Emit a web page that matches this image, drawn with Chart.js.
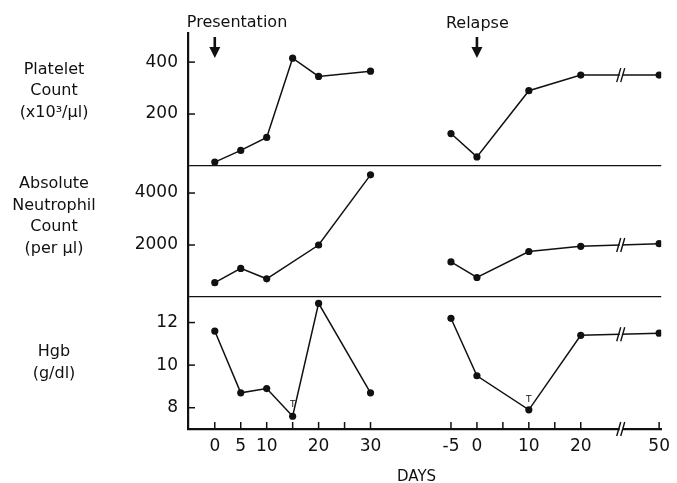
<!DOCTYPE html>
<html lang="en">
<head>
  <meta charset="UTF-8" />
  <title>Platelet, neutrophil and Hgb course</title>
  <script src="https://cdn.jsdelivr.net/npm/chart.js"></script>
  <style>
    html, body {
      margin: 0;
      background: #fff;
    }
    #chart {
      display: block;
    }
  </style>
</head>
<body>

<canvas id="chart" width="677" height="483"></canvas>

<script>
  // days of each sampling, per episode
  const presDays = [0, 5, 10, 15, 20, 30];
  const relapseDays = [-5, 0, 10, 20, 50];

  // platelet count (x10^3/ul)
  const plateletPres = [15, 60, 110, 415, 345, 365];
  const plateletRelapse = [125, 35, 290, 350, 350];

  // absolute neutrophil count (per ul)
  const ancPres = [550, 1100, 700, 2000, 4700];
  const ancPresDays = [0, 5, 10, 20, 30];
  const ancRelapse = [1350, 750, 1750, 1950, 2050];

  // hemoglobin (g/dl), T = transfused
  const hgbPres = [11.6, 8.7, 8.9, 7.6, 12.9, 8.7];
  const hgbRelapse = [12.2, 9.5, 7.9, 11.4, 11.5];
  const hgbPresT = [false, false, false, true, false, false];
  const hgbRelapseT = [false, false, true, false, false];

  // x axis ticks
  const presTicks = [0, 5, 10, 15, 20, 25, 30];
  const presTickLabels = ['0', '5', '10', '', '20', '', '30'];
  const relapseTicks = [-5, 0, 5, 10, 15, 20, 50];
  const relapseTickLabels = ['-5', '0', '', '10', '', '20', '50'];

  // y axis ticks
  const plateletTicks = [0, 100, 200, 300, 400];
  const plateletTickLabels = ['', '', '200', '', '400'];
  const ancTicks = [0, 1000, 2000, 3000, 4000];
  const ancTickLabels = ['', '', '2000', '', '4000'];
  const hgbTicks = [8, 9, 10, 11, 12];
  const hgbTickLabels = ['8', '', '10', '', '12'];

  // the day axis is one scale: relapse days are shifted, day 50 sits past a break
  const relapseShift = 50.5;
  const breakPos = 78.2;
  const afterBreakPos = 85.6;
  const relapsePos = d => d > 20 ? afterBreakPos + (d - 50) : relapseShift + d;

  const FONT = 'DejaVu Sans';
  const INK = '#111';

  const xTickPos = presTicks.concat(relapseTicks.map(relapsePos));
  const xTickText = presTickLabels.concat(relapseTickLabels);

  function pts(days, vals, mapper) {
    return days.map((d, i) => ({ x: mapper(d), y: vals[i] }));
  }
  const same = d => d;

  function series(data, axis) {
    return {
      data: data,
      yAxisID: axis,
      borderColor: INK,
      borderWidth: 1.5,
      backgroundColor: INK,
      pointRadius: 3.6,
      pointBorderWidth: 0,
      pointBackgroundColor: INK,
      tension: 0,
      fill: false
    };
  }

  function yScale(min, max, ticks, labels, weight) {
    return {
      type: 'linear',
      position: 'left',
      stack: 'panels',
      stackWeight: weight,
      min: min,
      max: max,
      afterBuildTicks: s => { s.ticks = ticks.map(v => ({ value: v })); },
      afterFit: s => { s.width = 188; },
      ticks: {
        color: INK,
        padding: 10,
        font: { family: FONT, size: 17 },
        callback: v => labels[ticks.indexOf(v)] || ''
      },
      grid: {
        drawTicks: false,
        lineWidth: 1.3,
        color: c => (c.tick && c.tick.value === 0) ? INK : 'rgba(0,0,0,0)'
      },
      border: { display: true, color: INK, width: 2.2 }
    };
  }

  function breakMark(ctx, x, y) {
    ctx.save();
    ctx.strokeStyle = INK;
    ctx.lineWidth = 1.4;
    ctx.fillStyle = '#fff';
    ctx.fillRect(x - 1, y - 2, 3, 4);
    [-2, 2].forEach(dx => {
      ctx.beginPath();
      ctx.moveTo(x + dx - 2, y + 7);
      ctx.lineTo(x + dx + 2, y - 7);
      ctx.stroke();
    });
    ctx.restore();
  }

  function arrow(ctx, x, top) {
    ctx.save();
    ctx.fillStyle = INK;
    ctx.fillRect(x - 1.3, top, 2.6, 12);
    ctx.beginPath();
    ctx.moveTo(x - 5.5, top + 10);
    ctx.lineTo(x + 5.5, top + 10);
    ctx.lineTo(x, top + 21);
    ctx.closePath();
    ctx.fill();
    ctx.restore();
  }

  const decor = {
    id: 'decor',
    afterDraw(chart) {
      const ctx = chart.ctx;
      const area = chart.chartArea;
      const xs = chart.scales.x;

      ctx.save();
      ctx.strokeStyle = INK;
      ctx.lineWidth = 1.5;

      // inward ticks on the y axes
      ['yPlt', 'yAnc', 'yHgb'].forEach(id => {
        const s = chart.scales[id];
        s.ticks.forEach(t => {
          if (t.value === s.min) return;
          const y = s.getPixelForValue(t.value);
          ctx.beginPath();
          ctx.moveTo(area.left, y);
          ctx.lineTo(area.left + 7, y);
          ctx.stroke();
        });
      });

      // inward ticks on the day axis
      xTickPos.forEach(p => {
        const x = xs.getPixelForValue(p);
        ctx.beginPath();
        ctx.moveTo(x, area.bottom);
        ctx.lineTo(x, area.bottom - 7);
        ctx.stroke();
      });
      ctx.restore();

      // breaks in the relapse lines and in the axis
      const bx = xs.getPixelForValue(breakPos);
      const a = relapsePos(20), b = relapsePos(50);
      const f = (breakPos - a) / (b - a);
      [['yPlt', plateletRelapse], ['yAnc', ancRelapse], ['yHgb', hgbRelapse]].forEach(([id, vals]) => {
        const v = vals[3] + (vals[4] - vals[3]) * f;
        breakMark(ctx, bx, chart.scales[id].getPixelForValue(v));
      });
      breakMark(ctx, bx, area.bottom);

      ctx.save();
      ctx.fillStyle = INK;
      ctx.textBaseline = 'alphabetic';

      // episode markers
      const px = xs.getPixelForValue(0);
      const rx = xs.getPixelForValue(relapsePos(0));
      arrow(ctx, px, area.top + 4);
      arrow(ctx, rx, area.top + 4);
      ctx.font = '16px ' + FONT;
      ctx.textAlign = 'left';
      ctx.fillText('Presentation', px - 28, area.top - 6);
      ctx.fillText('Relapse', rx - 31, area.top - 5);

      // transfusion marks
      ctx.font = '9px ' + FONT;
      ctx.textAlign = 'center';
      const hs = chart.scales.yHgb;
      presDays.forEach((d, i) => {
        if (hgbPresT[i]) ctx.fillText('T', xs.getPixelForValue(d), hs.getPixelForValue(hgbPres[i]) - 9);
      });
      relapseDays.forEach((d, i) => {
        if (hgbRelapseT[i]) ctx.fillText('T', xs.getPixelForValue(relapsePos(d)), hs.getPixelForValue(hgbRelapse[i]) - 8);
      });

      // panel names
      ctx.font = '16px ' + FONT;
      ctx.textBaseline = 'middle';
      const panels = [
        ['yPlt', 289, ['Platelet', 'Count', '(x10³/μl)']],
        ['yAnc', 3100, ['Absolute', 'Neutrophil', 'Count', '(per μl)']],
        ['yHgb', 10.1, ['Hgb', '(g/dl)']]
      ];
      panels.forEach(([id, at, lines]) => {
        const cy = chart.scales[id].getPixelForValue(at);
        const lh = 21.5;
        lines.forEach((txt, i) => {
          ctx.fillText(txt, 54, cy + (i - (lines.length - 1) / 2) * lh);
        });
      });

      // axis name
      ctx.font = '15px ' + FONT;
      ctx.textBaseline = 'alphabetic';
      ctx.fillText('DAYS', (area.left + area.right) / 2 - 8, chart.height - 2);
      ctx.restore();
    }
  };

  new Chart(document.getElementById('chart'), {
    type: 'line',
    data: {
      datasets: [
        series(pts(presDays, plateletPres, same), 'yPlt'),
        series(pts(relapseDays, plateletRelapse, relapsePos), 'yPlt'),
        series(pts(ancPresDays, ancPres, same), 'yAnc'),
        series(pts(relapseDays, ancRelapse, relapsePos), 'yAnc'),
        series(pts(presDays, hgbPres, same), 'yHgb'),
        series(pts(relapseDays, hgbRelapse, relapsePos), 'yHgb')
      ]
    },
    options: {
      responsive: false,
      animation: false,
      devicePixelRatio: 1,
      layout: { padding: { top: 33, right: 12, left: 0, bottom: 0 } },
      plugins: {
        legend: { display: false },
        tooltip: { enabled: false }
      },
      scales: {
        x: {
          type: 'linear',
          min: -5.16,
          max: 86,
          afterBuildTicks: s => { s.ticks = xTickPos.map(v => ({ value: v })); },
          afterFit: s => { s.height = 54; },
          ticks: {
            color: INK,
            padding: 7,
            maxRotation: 0,
            autoSkip: false,
            font: { family: FONT, size: 17 },
            callback: v => xTickText[xTickPos.indexOf(v)] || ''
          },
          grid: { drawTicks: false, drawOnChartArea: false },
          border: { display: true, color: INK, width: 2.2 }
        },
        yHgb: yScale(7, 13.2, hgbTicks, hgbTickLabels, 132),
        yAnc: yScale(0, 5040, ancTicks, ancTickLabels, 131),
        yPlt: yScale(0, 512, plateletTicks, plateletTickLabels, 133)
      }
    },
    plugins: [decor]
  });
</script>

</body>
</html>
